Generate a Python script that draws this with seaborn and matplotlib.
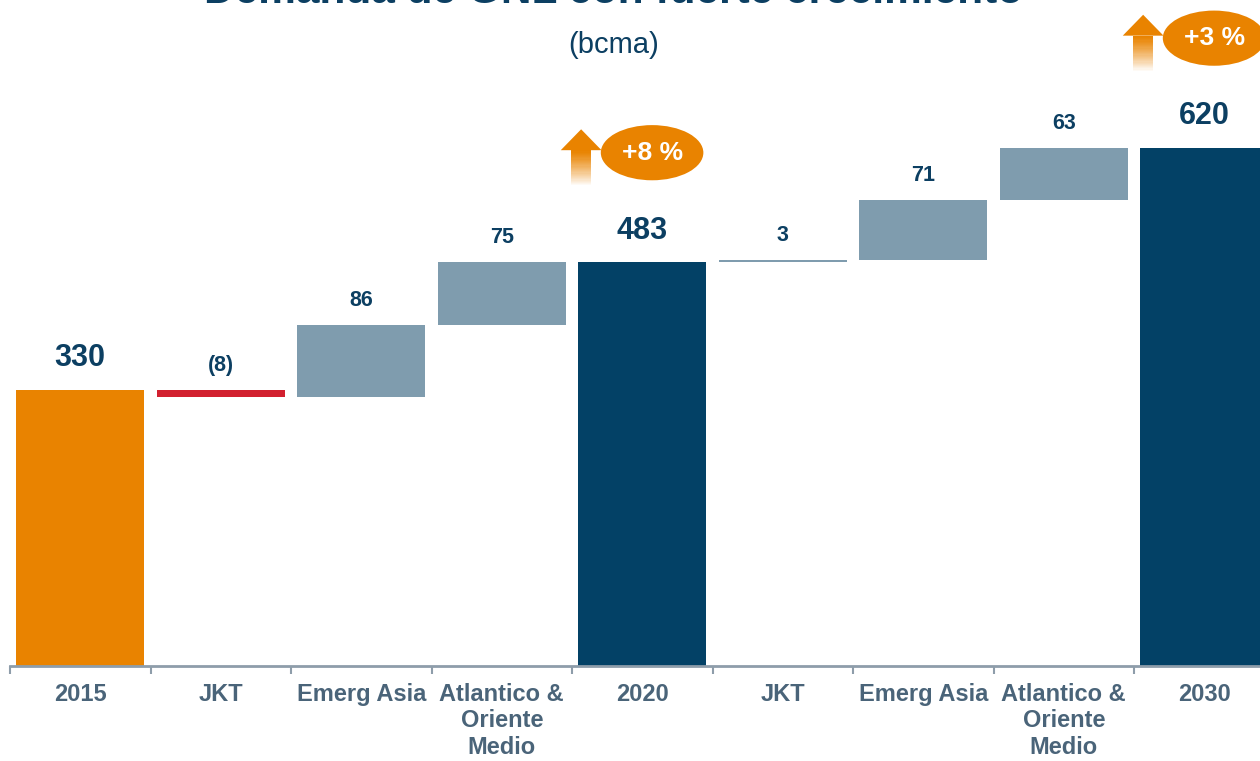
import numpy as np
import matplotlib
matplotlib.use("Agg")
import matplotlib.pyplot as plt
import seaborn as sns
from matplotlib.patches import Ellipse, Polygon, Rectangle

# data (bcma)
steps = ["2015", "JKT", "Emerg Asia", "Atlantico &\nOriente\nMedio", "2020",
         "JKT", "Emerg Asia", "Atlantico &\nOriente\nMedio", "2030"]
values = [330, -8, 86, 75, 483, 3, 71, 63, 620]
is_total = [True, False, False, False, True, False, False, False, True]
value_labels = ["330", "(8)", "86", "75", "483", "3", "71", "63", "620"]
growth_steps = [4, 8]
growth_labels = ["+8 %", "+3 %"]

title = "Demanda de GNL con fuerte crecimiento"
subtitle = "(bcma)"

ORANGE = "#E98300"
NAVY = "#034166"
STEEL = "#7F9CAE"
RED = "#D2202F"
TXT = "#0C3F62"
TICK = "#4A6479"
AXIS = "#8E9DAA"

# waterfall bottoms / heights
bottoms, heights = [], []
running = 0
for v, tot in zip(values, is_total):
    if tot:
        bottoms.append(0)
        heights.append(v)
        running = v
    elif v >= 0:
        bottoms.append(running)
        heights.append(v)
        running += v
    else:
        running += v
        bottoms.append(running)
        heights.append(-v)
tops = [b + h for b, h in zip(bottoms, heights)]

colors = []
for i, (v, tot) in enumerate(zip(values, is_total)):
    if tot:
        colors.append(ORANGE if i == 0 else NAVY)
    else:
        colors.append(RED if v < 0 else STEEL)

sns.set_style("white")
plt.rcParams["font.family"] = ["Liberation Sans", "DejaVu Sans"]

W, H = 1260, 761
fig = plt.figure(figsize=(W / 100, H / 100), dpi=100)
step_px = 140.5
ymax = 700
ax = fig.add_axes([10 / W, 95 / H, 9 * step_px / W, ymax * 0.836 / H])

sns.barplot(x=list(range(len(steps))), y=heights, bottom=bottoms, width=0.91,
            color=STEEL, errorbar=None, ax=ax, linewidth=0)
for patch, c in zip(ax.patches, colors):
    patch.set_facecolor(c)

ax.set_xlim(-0.5, len(steps) - 0.5)
ax.set_ylim(0, ymax)
ax.set_yticks([])
ax.set_ylabel("")
for s in ["top", "right", "left"]:
    ax.spines[s].set_visible(False)
ax.spines["bottom"].set_color(AXIS)
ax.spines["bottom"].set_linewidth(2)

ax.set_xticks(range(len(steps)))
ax.set_xticklabels(steps, fontsize=17, fontweight="bold", color=TICK, linespacing=1.2)
ax.set_xticks(np.arange(-0.5, len(steps), 1), minor=True)
ax.tick_params(axis="x", which="major", bottom=False, length=0, pad=12)
ax.tick_params(axis="x", which="minor", bottom=True, length=6, width=1.5,
               color=AXIS, direction="out")

# value labels
for i, (t, lab, tot) in enumerate(zip(tops, value_labels, is_total)):
    if tot:
        ax.annotate(lab, (i, t), xytext=(0, 12), textcoords="offset points",
                    ha="center", va="bottom", fontsize=22, fontweight="bold", color=TXT)
    else:
        ax.annotate(lab, (i, t), xytext=(0, 10), textcoords="offset points",
                    ha="center", va="bottom", fontsize=15.5, fontweight="bold", color=TXT)

# growth badges with fading arrows
for idx, lab in zip(growth_steps, growth_labels):
    top = tops[idx]
    head = Polygon([[idx - 0.58, top + 134], [idx - 0.29, top + 134], [idx - 0.435, top + 159]],
                   closed=True, facecolor=ORANGE, edgecolor="none", clip_on=False)
    ax.add_patch(head)
    n = 30
    y0, y1 = top + 92, top + 134
    for k in range(n):
        ya = y1 - (k + 1) * (y1 - y0) / n
        alpha = max(0.0, 1 - (k / n) ** 1.2)
        ax.add_patch(Rectangle((idx - 0.505, ya), 0.14, (y1 - y0) / n, facecolor=ORANGE,
                               edgecolor="none", alpha=alpha, clip_on=False))
    ax.add_patch(Ellipse((idx + 0.07, top + 131), 0.73, 66, facecolor=ORANGE,
                         edgecolor="none", clip_on=False))
    ax.text(idx + 0.07, top + 131, lab, ha="center", va="center", fontsize=19,
            fontweight="bold", color="white", clip_on=False)

fig.text(614 / W, 1 - 3 / H, title, ha="center", va="baseline", fontsize=30.5,
         fontweight="bold", color=TXT)
fig.text(614 / W, 1 - 45 / H, subtitle, ha="center", va="center", fontsize=21, color=TXT)

fig.savefig("out.png", dpi=100)
